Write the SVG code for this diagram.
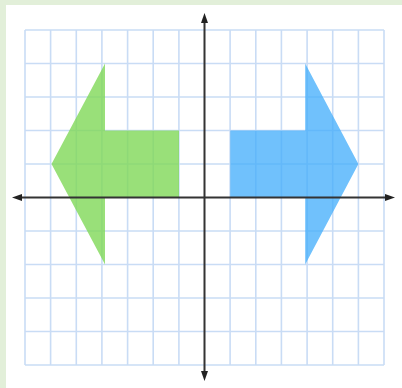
<svg xmlns="http://www.w3.org/2000/svg" width="402" height="388" viewBox="0 0 402 388">
<defs>
<style>
.grid line{stroke:#c9dcf5;stroke-width:1.6}
.axis{stroke:#333;stroke-width:2;fill:none}
.head{fill:#222}
</style>
</defs>
<rect x="0" y="0" width="402" height="388" fill="#e2efd9"/>
<rect x="6" y="5" width="396" height="383" fill="#ffffff"/>
<g id="grid" class="grid">
<line x1="25" y1="30" x2="25" y2="365"/>
<line x1="50.6" y1="30" x2="50.6" y2="365"/>
<line x1="76.3" y1="30" x2="76.3" y2="365"/>
<line x1="101.9" y1="30" x2="101.9" y2="365"/>
<line x1="127.6" y1="30" x2="127.6" y2="365"/>
<line x1="153.2" y1="30" x2="153.2" y2="365"/>
<line x1="178.9" y1="30" x2="178.9" y2="365"/>
<line x1="230.1" y1="30" x2="230.1" y2="365"/>
<line x1="255.8" y1="30" x2="255.8" y2="365"/>
<line x1="281.4" y1="30" x2="281.4" y2="365"/>
<line x1="307.1" y1="30" x2="307.1" y2="365"/>
<line x1="332.7" y1="30" x2="332.7" y2="365"/>
<line x1="358.4" y1="30" x2="358.4" y2="365"/>
<line x1="384" y1="30" x2="384" y2="365"/>
<line x1="25" y1="30" x2="384" y2="30"/>
<line x1="25" y1="63.5" x2="384" y2="63.5"/>
<line x1="25" y1="97" x2="384" y2="97"/>
<line x1="25" y1="130.5" x2="384" y2="130.5"/>
<line x1="25" y1="164" x2="384" y2="164"/>
<line x1="25" y1="231" x2="384" y2="231"/>
<line x1="25" y1="264.5" x2="384" y2="264.5"/>
<line x1="25" y1="298" x2="384" y2="298"/>
<line x1="25" y1="331.5" x2="384" y2="331.5"/>
<line x1="25" y1="365" x2="384" y2="365"/>
</g>
<g id="green-arrow">
<polygon points="51.5,164 105,63.5 105,130.5 179,130.5 179,197.5 105,197.5 105,264.5" fill="#7fd858" fill-opacity="0.8"/>
</g>
<g id="blue-arrow">
<polygon points="358.4,164 305.2,63.5 305.2,130.5 230.3,130.5 230.3,197.5 305.2,197.5 305.2,264.5" fill="#40acfb" fill-opacity="0.75"/>
</g>
<g id="axes">
<line class="axis" x1="204.5" y1="20" x2="204.5" y2="373"/>
<line class="axis" x1="20" y1="197.5" x2="388" y2="197.5"/>
<polygon class="head" points="204.5,13 201,23 208,23"/>
<polygon class="head" points="204.5,381 201,371 208,371"/>
<polygon class="head" points="12,197.5 22,194 22,201"/>
<polygon class="head" points="395,197.5 385,194 385,201"/>
</g>
</svg>
